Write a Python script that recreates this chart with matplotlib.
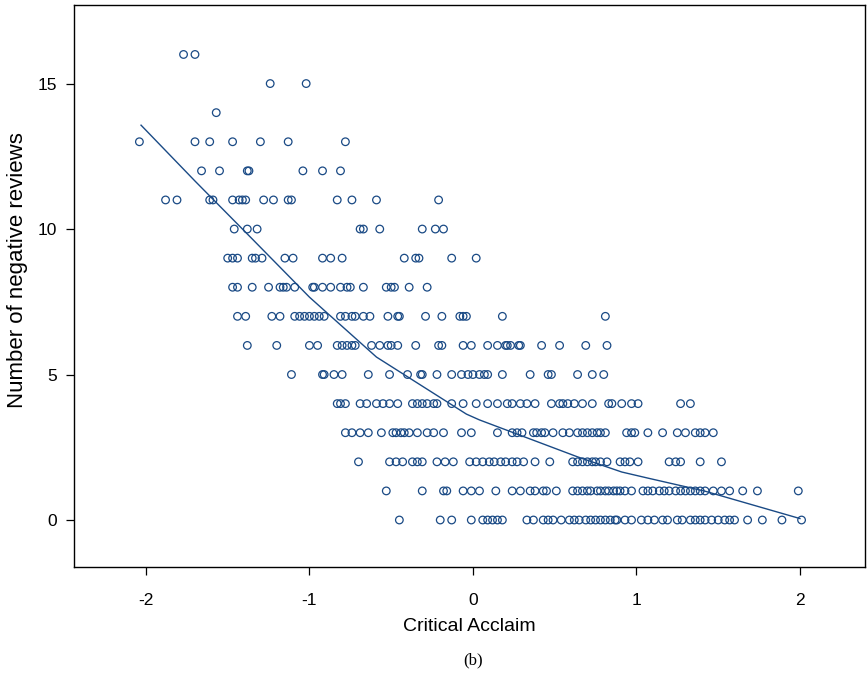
import matplotlib
matplotlib.use("Agg")
import matplotlib.pyplot as plt
import numpy as np

# scatter data grouped by number of negative reviews
row_0 = [-0.45, -0.20, -0.13, -0.01, 0.06, 0.09, 0.12, 0.15, 0.18, 0.33, 0.37, 0.43, 0.46, 0.49, 0.54, 0.59,
         0.62, 0.65, 0.69, 0.72, 0.75, 0.78, 0.81, 0.84, 0.88, 0.87, 0.93, 0.97, 1.03, 1.07, 1.11, 1.16, 1.19,
         1.25, 1.28, 1.33, 1.36, 1.39, 1.42, 1.46, 1.50, 1.54, 1.57, 1.60, 1.68, 1.77, 1.89, 2.01]
row_1 = [-0.53, -0.31, -0.18, -0.16, -0.06, -0.01, 0.04, 0.14, 0.24, 0.29, 0.35, 0.38, 0.43, 0.45, 0.51, 0.61,
         0.64, 0.67, 0.70, 0.72, 0.76, 0.78, 0.81, 0.83, 0.86, 0.88, 0.90, 0.93, 0.97, 1.04, 1.07, 1.10, 1.14,
         1.17, 1.20, 1.24, 1.27, 1.30, 1.33, 1.36, 1.39, 1.42, 1.47, 1.52, 1.57, 1.65, 1.74, 1.99]
row_2 = [-0.70, -0.51, -0.47, -0.43, -0.37, -0.34, -0.31, -0.22, -0.17, -0.12, -0.02, 0.02, 0.06, 0.10, 0.13,
         0.17, 0.20, 0.24, 0.27, 0.31, 0.38, 0.47, 0.61, 0.64, 0.67, 0.70, 0.73, 0.75, 0.78, 0.82, 0.90, 0.93,
         0.96, 1.01, 1.20, 1.24, 1.27, 1.39, 1.52]
row_3 = [-0.78, -0.74, -0.69, -0.64, -0.56, -0.49, -0.47, -0.44, -0.42, -0.39, -0.34, -0.28, -0.24, -0.18,
         -0.07, -0.01, 0.15, 0.24, 0.27, 0.30, 0.37, 0.39, 0.42, 0.44, 0.49, 0.55, 0.59, 0.64, 0.67, 0.70,
         0.73, 0.76, 0.78, 0.81, 0.94, 0.97, 0.99, 1.07, 1.16, 1.25, 1.30, 1.36, 1.39, 1.42, 1.47]
row_4 = [-0.83, -0.81, -0.78, -0.69, -0.65, -0.59, -0.55, -0.51, -0.46, -0.37, -0.34, -0.31, -0.28, -0.24,
         -0.22, -0.13, -0.06, 0.02, 0.09, 0.15, 0.21, 0.24, 0.29, 0.33, 0.38, 0.48, 0.53, 0.55, 0.58, 0.62,
         0.67, 0.73, 0.83, 0.85, 0.91, 0.97, 1.01, 1.27, 1.33]
row_5 = [-1.11, -0.92, -0.91, -0.85, -0.80, -0.64, -0.51, -0.40, -0.32, -0.31, -0.22, -0.13, -0.07, -0.03,
         0.00, 0.04, 0.07, 0.09, 0.18, 0.35, 0.46, 0.48, 0.64, 0.73, 0.80]
row_6 = [-1.38, -1.20, -1.00, -0.95, -0.83, -0.80, -0.77, -0.74, -0.72, -0.62, -0.57, -0.52, -0.50, -0.46,
         -0.35, -0.21, -0.19, -0.06, -0.01, 0.09, 0.15, 0.20, 0.21, 0.23, 0.28, 0.29, 0.42, 0.53, 0.69, 0.82]
row_7 = [-1.44, -1.39, -1.23, -1.18, -1.09, -1.06, -1.03, -1.00, -0.97, -0.94, -0.91, -0.81, -0.78, -0.74,
         -0.72, -0.67, -0.63, -0.52, -0.46, -0.45, -0.29, -0.19, -0.08, -0.06, -0.04, 0.18, 0.81]
row_8 = [-1.47, -1.44, -1.35, -1.25, -1.18, -1.16, -1.14, -1.09, -0.98, -0.97, -0.92, -0.87, -0.81, -0.77,
         -0.75, -0.67, -0.53, -0.50, -0.48, -0.39, -0.28]
row_9 = [-1.50, -1.47, -1.44, -1.35, -1.33, -1.29, -1.15, -1.10, -0.92, -0.87, -0.80, -0.42, -0.35, -0.33,
         -0.13, 0.02]
row_10 = [-1.46, -1.38, -1.32, -0.69, -0.67, -0.57, -0.31, -0.23, -0.18]
row_11 = [-1.88, -1.81, -1.61, -1.59, -1.47, -1.43, -1.41, -1.39, -1.28, -1.22, -1.13, -1.11, -0.83, -0.74,
          -0.59, -0.21]
row_12 = [-1.66, -1.55, -1.38, -1.37, -1.04, -0.92, -0.81]
row_13 = [-2.04, -1.70, -1.61, -1.47, -1.30, -1.13, -0.78]
row_14 = [-1.57]
row_15 = [-1.24, -1.02]
row_16 = [-1.77, -1.70]

rows = [row_0, row_1, row_2, row_3, row_4, row_5, row_6, row_7, row_8,
        row_9, row_10, row_11, row_12, row_13, row_14, row_15, row_16]

# fitted curve
fit_x = [-2.03, -1.70, -1.35, -1.00, -0.59, -0.04, 0.04, 0.64, 0.91, 1.07, 1.42, 2.00]
fit_y = [13.57, 11.65, 9.66, 7.66, 5.60, 3.64, 3.44, 2.17, 1.65, 1.44, 0.99, 0.05]

x_ticks = [-2, -1, 0, 1, 2]
y_ticks = [0, 5, 10, 15]

xs = np.concatenate([np.array(r, dtype=float) for r in rows])
ys = np.concatenate([np.full(len(r), k, dtype=float) for k, r in enumerate(rows)])

color = "#1a4a85"
plt.rcParams['font.family'] = ['Liberation Sans', 'DejaVu Sans']

fig = plt.figure(figsize=(8.68, 6.75), dpi=100)
ax = fig.add_axes([74 / 868, 1 - 567 / 675, (865 - 74) / 868, (567 - 5) / 675])

ax.scatter(xs, ys, s=30, facecolors='none', edgecolors=color, linewidths=0.9, zorder=2)
ax.plot(fit_x, fit_y, color=color, linewidth=1.0, zorder=3)

ax.set_xlim(-2.44, 2.398)
ax.set_ylim(-1.615, 17.70)
ax.set_xticks(x_ticks)
ax.set_yticks(y_ticks)
ax.set_xticklabels([str(t) for t in x_ticks])
ax.set_yticklabels([str(t) for t in y_ticks])
ax.tick_params(direction='out', length=6, width=0.9, labelsize=12.5, colors='black')
ax.tick_params(axis='x', pad=13)
ax.tick_params(axis='y', pad=6.5)

for s in ax.spines.values():
    s.set_linewidth(1.0)
    s.set_color('black')

ax.set_xlabel("Critical Acclaim", fontsize=14, labelpad=7)
ax.set_ylabel("Number of negative reviews", fontsize=16, labelpad=7)
ax.yaxis.set_label_coords(-0.0, (567 - 270) / 562, transform=None)
ax.yaxis.label.set_position((0, (567 - 270) / 562))
ax.yaxis.set_label_coords(-(74 - 18) / 791, (567 - 270) / 562)
ax.yaxis.label.set_va('center')

fig.text(473 / 868, 1 - 660 / 675, "(b)", ha='center', va='center', fontsize=12,
         family=['Liberation Serif', 'DejaVu Serif'])

fig.savefig("out.png", dpi=100)
